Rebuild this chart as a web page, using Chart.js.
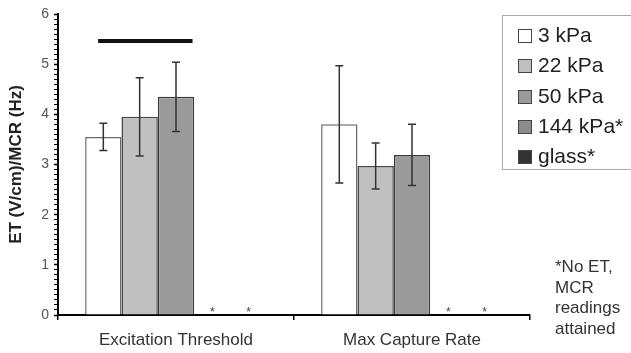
<!DOCTYPE html>
<html>
<head>
<meta charset="utf-8">
<script src="https://cdn.jsdelivr.net/npm/chart.js@4.4.1/dist/chart.umd.min.js"></script>
<style>
  body { margin: 0; background: #fff; overflow: hidden; }
  #wrap { position: relative; width: 631px; height: 353px; overflow: hidden; font-family: "Liberation Sans", Arial, sans-serif; }
  #legend { position: absolute; left: 502px; top: 15px; width: 140px; height: 155px; border: 1px solid #aaa; box-sizing: border-box; }
  #legend .item { position: absolute; left: 15px; height: 30px; line-height: 30px; font-size: 21px; color: #222; white-space: nowrap; }
  #legend .sw { display: inline-block; width: 12px; height: 12px; border: 1.5px solid #444; margin-right: 6px; vertical-align: -1px; }
  #note { position: absolute; left: 555px; top: 257px; font-size: 17px; line-height: 20.5px; color: #333; }
</style>
</head>
<body>
<div id="wrap">
  <canvas id="chart" width="631" height="353"></canvas>
  <div id="legend"></div>
  <div id="note">*No ET,<br>MCR<br>readings<br>attained</div>
</div>
<script>
// categories and series (ET in V/cm, MCR in Hz)
const categories = ['Excitation Threshold', 'Max Capture Rate'];
const seriesNames = ['3 kPa', '22 kPa', '50 kPa', '144 kPa*', 'glass*'];
const kPa3 = [3.55, 3.80];
const kPa22 = [3.95, 2.97];
const kPa50 = [4.35, 3.19];
const kPa144 = [0, 0];   // no reading
const glass = [0, 0];    // no reading
// error bar half-widths
const kPa3Err = [0.27, 1.17];
const kPa22Err = [0.78, 0.46];
const kPa50Err = [0.69, 0.61];
// significance bar over ET group, x in category-index units
const sigX = [-0.33, 0.07];
const sigY = 5.46;
const yTicks = [0, 1, 2, 3, 4, 5, 6];

const fills = ['#ffffff', '#c0c0c0', '#9a9a9a', '#8c8c8c', '#333333'];
const borders = ['#6a6a6a', '#444444', '#3a3a3a', '#444444', '#222222'];
const FONT = '"Liberation Sans", Arial, sans-serif';

const seriesData = [kPa3, kPa22, kPa50, kPa144, glass];
const seriesErr = [kPa3Err, kPa22Err, kPa50Err, null, null];

// html legend
const legendEl = document.getElementById('legend');
seriesNames.forEach((name, i) => {
    const d = document.createElement('div');
    d.className = 'item';
    d.style.top = (4 + i * 30.3) + 'px';
    d.innerHTML = '<span class="sw" style="background:' + fills[i] + '"></span>' + name;
    legendEl.appendChild(d);
});

const extras = {
    id: 'extras',
    afterDatasetsDraw(chart) {
        const { ctx, scales: { x, y } } = chart;
        ctx.save();
        // error bars + "no reading" stars
        seriesData.forEach((vals, i) => {
            const meta = chart.getDatasetMeta(i);
            meta.data.forEach((bar, j) => {
                if (seriesErr[i]) {
                    const hi = y.getPixelForValue(vals[j] + seriesErr[i][j]);
                    const lo = y.getPixelForValue(vals[j] - seriesErr[i][j]);
                    ctx.strokeStyle = '#333';
                    ctx.lineWidth = 1.5;
                    ctx.beginPath();
                    ctx.moveTo(bar.x, hi); ctx.lineTo(bar.x, lo);
                    ctx.moveTo(bar.x - 4, hi); ctx.lineTo(bar.x + 4, hi);
                    ctx.moveTo(bar.x - 4, lo); ctx.lineTo(bar.x + 4, lo);
                    ctx.stroke();
                } else if (vals[j] === 0) {
                    ctx.fillStyle = '#444';
                    ctx.font = '12px ' + FONT;
                    ctx.textAlign = 'center';
                    ctx.textBaseline = 'middle';
                    ctx.fillText('*', bar.x, y.getPixelForValue(0) - 2);
                }
            });
        });
        // significance bar
        ctx.strokeStyle = '#111';
        ctx.lineWidth = 4;
        ctx.beginPath();
        ctx.moveTo(x.getPixelForValue(sigX[0]), y.getPixelForValue(sigY));
        ctx.lineTo(x.getPixelForValue(sigX[1]), y.getPixelForValue(sigY));
        ctx.stroke();
        ctx.restore();
    }
};

const datasets = seriesNames.map((name, i) => ({
    label: name,
    data: seriesData[i],
    backgroundColor: fills[i],
    borderColor: borders[i],
    borderWidth: seriesData[i].some(v => v > 0) ? 1.5 : 0,
    barPercentage: 1,
    categoryPercentage: 0.77
}));

new Chart(document.getElementById('chart'), {
    type: 'bar',
    data: { labels: categories, datasets },
    options: {
        responsive: false, animation: false,
        layout: { padding: { left: 0, right: 101, top: 14, bottom: 0 } },
        plugins: { legend: { display: false }, tooltip: { enabled: false } },
        scales: {
            x: {
                grid: { offset: true, drawOnChartArea: false, color: '#000', tickLength: 5, lineWidth: 1.5 },
                border: { color: '#000', width: 2 },
                ticks: { color: '#333', font: { family: FONT, size: 17 }, padding: 10 },
                afterFit: s => { s.height = 38; }
            },
            y: {
                min: 0, max: 6,
                ticks: {
                    stepSize: 0.1, autoSkip: false, maxTicksLimit: 100,
                    callback: v => { const r = Math.round(v); return Math.abs(v - r) < 1e-6 && yTicks.includes(r) ? r : ''; },
                    color: '#555', font: { family: FONT, size: 14 }, padding: 5
                },
                grid: {
                    drawOnChartArea: false, color: '#000', tickLength: 4,
                    tickWidth: c => (c.tick && Math.abs(c.tick.value - Math.round(c.tick.value)) < 1e-6) ? 1.5 : 1
                },
                border: { color: '#000', width: 2 },
                title: { display: true, text: 'ET (V/cm)/MCR (Hz)', color: '#222', font: { family: FONT, size: 17, weight: 'bold' }, padding: { top: 6, bottom: 0 } },
                afterFit: s => { s.width = 58; }
            }
        }
    },
    plugins: [extras]
});
</script>
</body>
</html>
